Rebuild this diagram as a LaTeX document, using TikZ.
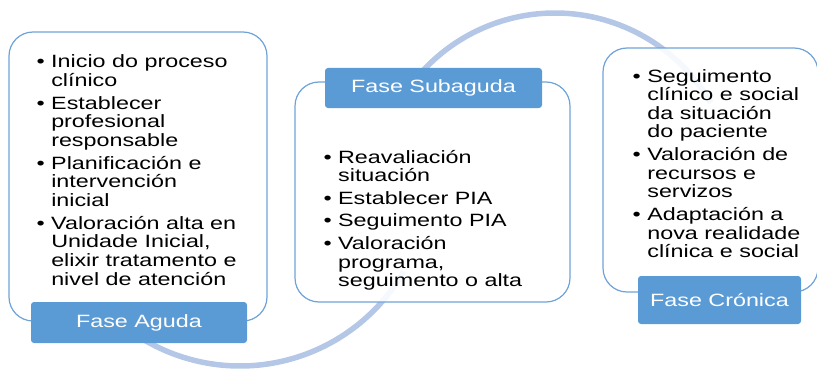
\documentclass[tikz,border=0pt]{standalone}
\usepackage{fontspec}
\setmainfont{Liberation Sans}[FakeStretch=1.31]
\usetikzlibrary{positioning}
\definecolor{phaseblue}{HTML}{5B9BD5}
\definecolor{arcblue}{HTML}{B4C7E7}
\definecolor{boxline}{HTML}{6FA3D8}
\newcommand{\phaselist}[1]{\begin{tabular}[t]{@{}l@{\hspace{6.5pt}}l@{}}#1\end{tabular}}

\begin{document}
\begin{tikzpicture}[x=1pt,y=-1pt,
  phasebox/.style={draw=boxline,line width=1.2pt,fill=white,fill opacity=0.88,rounded corners=24pt,inner sep=0pt},
  phaselabel/.style={fill=phaseblue,text=white,rounded corners=3pt,inner sep=0pt,font=\fontsize{17.8}{18.6}\selectfont},
  itemtext/.style={inner sep=0pt,anchor=base west,text=black,font=\fontsize{17.8}{18.6}\selectfont},
  cyclearc/.style={draw=arcblue,line width=5.5pt}]
\useasboundingbox (0,0) rectangle (817,369);
% arcs behind the boxes
\coordinate (lowC) at (240,177);
\coordinate (upC) at (555,193);
\draw[cyclearc] (lowC) ++(125:189) arc[start angle=125,end angle=30,radius=189];
\draw[cyclearc] (upC) ++(-140:180) arc[start angle=-140,end angle=-30,radius=180];
% boxes
\node[phasebox,minimum width=258pt,minimum height=289pt] (agudaBox) at (138,176.5) {};
\node[phasebox,minimum width=275pt,minimum height=220pt] (subagudaBox) at (432.5,192) {};
\node[phasebox,minimum width=215pt,minimum height=244pt] (cronicaBox) at (710.5,170) {};
% labels
\node[phaselabel,minimum width=216pt,minimum height=41pt] (agudaLabel) at (139,322.5) {Fase Aguda};
\node[phaselabel,minimum width=217pt,minimum height=40pt] (subagudaLabel) at (433.5,88) {Fase Subaguda};
\node[phaselabel,minimum width=163pt,minimum height=48pt] (cronicaLabel) at (719.5,300) {Fase Crónica};
% bullet texts
\node[itemtext] (agudaText) at (36.4,68) {\phaselist{%
  \textbullet & Inicio do proceso\\
  & clínico\\[4pt]
  \textbullet & Establecer\\
  & profesional\\
  & responsable\\[4pt]
  \textbullet & Planificación e\\
  & intervención\\
  & inicial\\[4pt]
  \textbullet & Valoración alta en\\
  & Unidade Inicial,\\
  & elixir tratamento e\\
  & nivel de atención}};
\node[itemtext] (subagudaText) at (323.3,163) {\phaselist{%
  \textbullet & Reavaliación\\
  & situación\\[4pt]
  \textbullet & Establecer PIA\\[4pt]
  \textbullet & Seguimento PIA\\[4pt]
  \textbullet & Valoración\\
  & programa,\\
  & seguimento o alta}};
\node[itemtext] (cronicaText) at (632.5,82) {\phaselist{%
  \textbullet & Seguimento\\
  & clínico e social\\
  & da situación\\
  & do paciente\\[4pt]
  \textbullet & Valoración de\\
  & recursos e\\
  & servizos\\[4pt]
  \textbullet & Adaptación a\\
  & nova realidade\\
  & clínica e social}};
\end{tikzpicture}
\end{document}
